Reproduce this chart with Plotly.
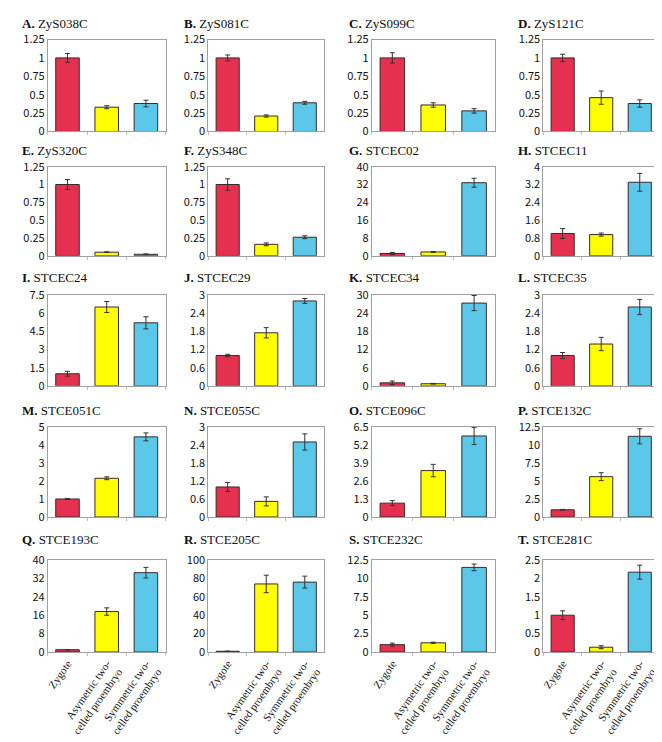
import plotly.graph_objects as go

categories = ["Zygote", "Asymetric two-<br>celled proembryo", "Symmetric two-<br>celled proembryo"]
letters = list("ABCDEFGHIJKLMNOPQRST")
genes = ["ZyS038C", "ZyS081C", "ZyS099C", "ZyS121C", "ZyS320C", "ZyS348C",
         "STCEC02", "STCEC11", "STCEC24", "STCEC29", "STCEC34", "STCEC35",
         "STCE051C", "STCE055C", "STCE096C", "STCE132C", "STCE193C", "STCE205C",
         "STCE232C", "STCE281C"]
means = [
    [1.0, 0.33, 0.38], [1.0, 0.21, 0.39], [1.0, 0.36, 0.28], [1.0, 0.46, 0.38],
    [1.0, 0.05, 0.02], [1.0, 0.16, 0.26], [1.0, 1.7, 32.8], [1.0, 0.95, 3.3],
    [1.0, 6.5, 5.2], [1.0, 1.75, 2.8], [1.0, 0.7, 27.3], [1.0, 1.38, 2.6],
    [1.0, 2.15, 4.45], [1.0, 0.52, 2.5], [1.0, 3.35, 5.85], [1.0, 5.6, 11.2],
    [1.0, 17.6, 34.5], [0.8, 74.0, 76.0], [1.0, 1.25, 11.5], [1.0, 0.13, 2.17],
]
errors = [
    [0.06, 0.02, 0.045], [0.04, 0.015, 0.02], [0.07, 0.03, 0.03], [0.05, 0.09, 0.05],
    [0.07, 0.005, 0.005], [0.08, 0.02, 0.02], [0.5, 0.2, 2.0], [0.22, 0.07, 0.4],
    [0.2, 0.45, 0.5], [0.04, 0.17, 0.08], [0.6, 0.1, 2.5], [0.1, 0.22, 0.25],
    [0.03, 0.08, 0.22], [0.15, 0.15, 0.27], [0.18, 0.45, 0.62], [0.05, 0.55, 1.05],
    [0.1, 1.6, 2.3], [0.1, 9.5, 6.5], [0.2, 0.08, 0.45], [0.12, 0.04, 0.19],
]
ymax = [1.25, 1.25, 1.25, 1.25, 1.25, 1.25, 40, 4, 7.5, 3, 30, 3, 5, 3, 6.5, 12.5, 40, 100, 12.5, 2.5]
dticks = [0.25, 0.25, 0.25, 0.25, 0.25, 0.25, 8, 0.8, 1.5, 0.6, 6, 0.6, 1, 0.6, 1.3, 2.5, 8, 20, 2.5, 0.5]
bar_colors = ["#E5304F", "#FFFF00", "#5BC8EA"]

SERIF = "Liberation Serif, Times New Roman, Times, serif"
W, H = 662, 742
col_px = [(38, 156), (199, 315), (363, 486), (535, 651)]
row_px = [(23, 117), (153, 244), (284, 377), (419, 511), (555, 649)]
title_x_px = [10, 173, 338, 508]
title_y_px = [7, 136, 266, 402, 534]

fig = go.Figure()
layout = {}
annotations = []

def fmt(v):
    return ("%.2f" % v).rstrip("0").rstrip(".")

for i in range(20):
    r, c = divmod(i, 4)
    n = i + 1
    xa = "x" if n == 1 else f"x{n}"
    ya = "y" if n == 1 else f"y{n}"
    fig.add_trace(go.Bar(
        x=categories, y=means[i], xaxis=xa, yaxis=ya,
        marker=dict(color=bar_colors, line=dict(color="#3a2a2a", width=1)),
        width=0.6,
        error_y=dict(type="data", array=errors[i], color="#333333", thickness=1, width=2.5),
        showlegend=False,
    ))
    x0, x1 = col_px[c]
    y0, y1 = row_px[r]
    nt = int(round(ymax[i] / dticks[i]))
    tv = [k * dticks[i] for k in range(nt + 1)]
    layout["xaxis" if n == 1 else f"xaxis{n}"] = dict(
        domain=[x0 / W, x1 / W], anchor=ya, type="category",
        showline=True, mirror=True, linecolor="#a0a0a0", linewidth=1,
        showgrid=False, zeroline=False,
        ticks="outside", tickson="boundaries", ticklen=3, tickcolor="#c0c0c0",
        showticklabels=(r == 4), tickangle=-55,
        tickfont=dict(family=SERIF, size=11, color="#111111"),
        fixedrange=True,
    )
    layout["yaxis" if n == 1 else f"yaxis{n}"] = dict(
        domain=[1 - y1 / H, 1 - y0 / H], anchor=xa,
        range=[0, ymax[i]], tickvals=tv, ticktext=[fmt(v) for v in tv],
        showline=True, mirror=True, linecolor="#a0a0a0", linewidth=1,
        showgrid=False, zeroline=False, ticks="",
        tickfont=dict(family="Noto Sans CJK JP", size=11, color="#111111"),
        fixedrange=True,
    )
    annotations.append(dict(
        text=f"<b>{letters[i]}.</b> {genes[i]}",
        x=title_x_px[c] / W, y=1 - title_y_px[r] / H, xref="paper", yref="paper",
        xanchor="left", yanchor="middle", showarrow=False,
        font=dict(family=SERIF, size=13, color="#111111"),
    ))

fig.update_layout(
    width=W, height=H, margin=dict(l=0, r=0, t=0, b=0),
    plot_bgcolor="white", paper_bgcolor="white",
    annotations=annotations, bargap=0.4,
    **layout,
)
fig.write_html("out.html")
